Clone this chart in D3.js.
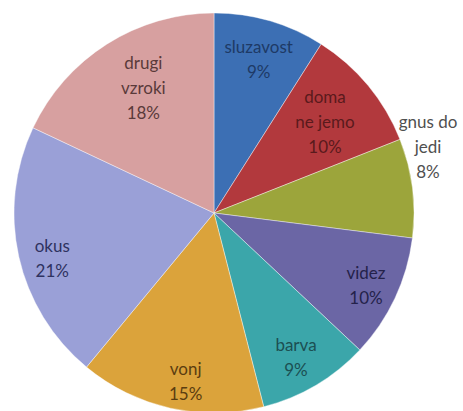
<!DOCTYPE html>
<html>
<head>
<meta charset="utf-8">
<script src="https://cdn.jsdelivr.net/npm/d3@7"></script>
<style>
  body { margin: 0; background: #fff; }
  svg { display: block; }
</style>
</head>
<body>
<div id="chart"></div>
<script>
const categories = ["sluzavost", "doma ne jemo", "gnus do jedi", "videz", "barva", "vonj", "okus", "drugi vzroki"];
const values = [9, 10, 8, 10, 9, 15, 21, 18];
const colors = ["#3c6fb4", "#b2393d", "#9ca53b", "#6b66a5", "#3ba6aa", "#dba33b", "#9aa0d7", "#d7a0a0"];
const textColors = ["#1e3a66", "#5a1a1c", "#505050", "#24224a", "#1b4f52", "#5a3d10", "#2e3260", "#5a3a3a"];

const width = 463;
const height = 411;
const cx = 214;
const cy = 213;
const radius = 200;

// where each label sits, as a fraction of the radius (outside for gnus do jedi)
const labelPos = {
    "sluzavost": { r: 0.8, a: 0 },
    "doma ne jemo": { r: 0.72, a: 0 },
    "gnus do jedi": { r: 1.12, a: -10 },
    "videz": { r: 0.84, a: 0 },
    "barva": { r: 0.83, a: 1 },
    "vonj": { r: 0.85, a: -3 },
    "okus": { r: 0.84, a: -3 },
    "drugi vzroki": { r: 0.72, a: 3 },
};

const data = categories.map((c, i) => ({ name: c, value: values[i], i }));

const svg = d3.select("#chart")
    .append("svg")
    .attr("width", width)
    .attr("height", height);

const pie = d3.pie()
    .value((d) => d.value)
    .sort(null);

const arc = d3.arc()
    .innerRadius(0)
    .outerRadius(radius);

const g = svg.append("g")
    .attr("transform", `translate(${cx},${cy})`);

const arcs = pie(data);

g.selectAll("path")
    .data(arcs)
    .enter()
    .append("path")
    .attr("d", arc)
    .attr("fill", (d) => colors[d.data.i])
    .attr("stroke", "#fff")
    .attr("stroke-opacity", 0.5)
    .attr("stroke-width", 0.8);

// labels
const lineH = 25;
g.selectAll("text")
    .data(arcs)
    .enter()
    .append("text")
    .attr("text-anchor", "middle")
    .style("font-family", "Lato, 'Open Sans', sans-serif")
    .style("font-size", "17px")
    .style("fill", (d) => textColors[d.data.i])
    .each(function(d) {
        const p = labelPos[d.data.name];
        const mid = (d.startAngle + d.endAngle) / 2 + (p.a * Math.PI / 180);
        const r = radius * p.r;
        const x = Math.sin(mid) * r;
        const y = -Math.cos(mid) * r;
        let lines;
        if (d.data.name === "doma ne jemo") lines = ["doma", "ne jemo"];
        else if (d.data.name === "gnus do jedi") lines = ["gnus do", "jedi"];
        else if (d.data.name === "drugi vzroki") lines = ["drugi", "vzroki"];
        else lines = [d.data.name];
        lines.push(d.data.value + "%");
        const t = d3.select(this);
        const y0 = y - (lines.length - 1) * lineH / 2;
        lines.forEach((l, k) => {
            t.append("tspan")
                .attr("x", x)
                .attr("y", y0 + k * lineH)
                .attr("dominant-baseline", "central")
                .text(l);
        });
    });
</script>
</body>
</html>
